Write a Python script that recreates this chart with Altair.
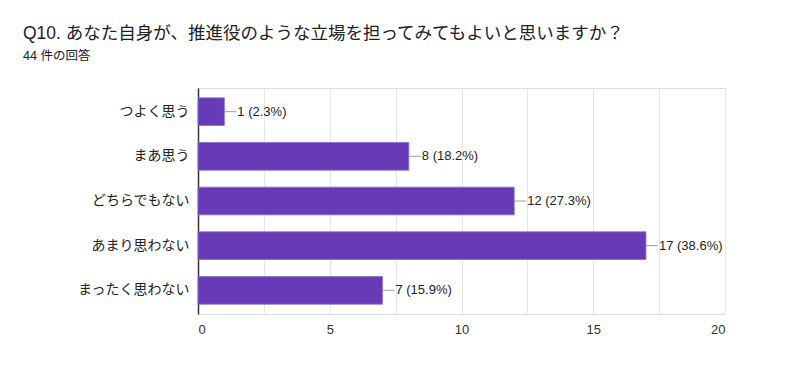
import altair as alt
import pandas as pd

categories = ["つよく思う", "まあ思う", "どちらでもない", "あまり思わない", "まったく思わない"]
counts = [1, 8, 12, 17, 7]
percents = [2.3, 18.2, 27.3, 38.6, 15.9]
x_grid_values = [0, 2.5, 5, 7.5, 10, 12.5, 15, 17.5, 20]

df = pd.DataFrame({"cat": categories, "count": counts, "pct": percents})
df["label"] = [f"{c} ({p}%)" for c, p in zip(counts, percents)]

FONT = "Liberation Sans, Noto Sans CJK JP, sans-serif"

y_enc = alt.Y("cat:N", sort=categories, title=None,
              scale=alt.Scale(paddingInner=0.38, paddingOuter=0.22),
              axis=alt.Axis(labelFontSize=14, labelColor="#222222", labelPadding=9,
                            ticks=False, domainColor="#333333", domainWidth=1.5,
                            minExtent=175, maxExtent=175, labelFont=FONT))
x_enc = alt.X("count:Q", title=None,
              scale=alt.Scale(domain=[0, 20], nice=False),
              axis=alt.Axis(values=x_grid_values,
                            labelExpr="datum.value % 5 == 0 ? datum.label : ''",
                            ticks=False, domain=False, gridColor="#e6e6e6",
                            labelFontSize=13, labelColor="#333333", labelPadding=9,
                            labelFont=FONT))

base = alt.Chart(df)

bars = base.mark_bar(color="#673AB7", stroke="#8a6bd0", strokeWidth=0.8).encode(y=y_enc, x=x_enc)

leaders = base.mark_rule(color="#9e9e9e", strokeWidth=1, x2Offset=12).encode(
    y=alt.Y("cat:N", sort=categories), x="count:Q", x2="count:Q")

labels = base.mark_text(align="left", baseline="middle", dx=13, fontSize=13,
                        color="#222222", font=FONT).encode(
    y=alt.Y("cat:N", sort=categories), x="count:Q", text="label:N")

chart = (bars + leaders + labels).properties(
    width=527, height=226,
    padding={"left": 15, "top": 17, "right": 5, "bottom": 5},
    title=alt.TitleParams(
        text="Q10. あなた自身が、推進役のような立場を担ってみてもよいと思いますか？",
        subtitle="44 件の回答",
        anchor="start", frame="bounds", fontSize=17.5, fontWeight="normal",
        color="#202124", subtitleFontSize=12.5, subtitleColor="#202124",
        subtitlePadding=7, offset=26, font=FONT, subtitleFont=FONT),
).configure_view(stroke="#e6e6e6").configure(background="white")

chart.save("out.html", embed_options={"renderer": "svg", "actions": False})
